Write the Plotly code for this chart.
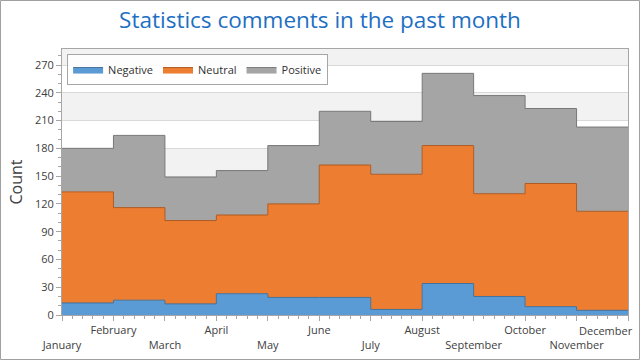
import plotly.graph_objects as go

months = ["January", "February", "March", "April", "May", "June", "July",
          "August", "September", "October", "November", "December"]
negative = [13, 16, 12, 23, 19, 19, 6, 34, 20, 9, 5, 5]
neutral = [120, 100, 90, 85, 101, 143, 146, 149, 111, 133, 107, 107]
positive = [47, 78, 47, 48, 63, 58, 57, 78, 106, 81, 91, 91]

x = list(range(len(months)))
ticktext = [m if i % 2 == 1 else "<br>" + m for i, m in enumerate(months)]
ticktext[-1] = ""

series = [
    ("Negative", negative, "#5b9bd5", "#41719c"),
    ("Neutral", neutral, "#ed7d31", "#ae5a21"),
    ("Positive", positive, "#a5a5a5", "#787878"),
]

fig = go.Figure()
for name, vals, fill, line in series:
    fig.add_trace(go.Scatter(
        x=x, y=vals, name=name, mode="lines", stackgroup="one",
        line=dict(shape="hv", color=line, width=1), fillcolor=fill,
    ))

shapes = []
for k in range(1, 10, 2):
    shapes.append(dict(type="rect", xref="paper", yref="y", x0=0, x1=1,
                       y0=30 * k, y1=30 * (k + 1), fillcolor="#f2f2f2",
                       line_width=0, layer="below"))
shapes.append(dict(type="rect", xref="paper", yref="paper",
                   x0=-61.5 / 566, x1=577.5 / 566, y0=-44.5 / 266, y1=314.5 / 266,
                   line=dict(color="#a0a0a0", width=1), fillcolor="rgba(0,0,0,0)"))

fig.update_layout(
    width=640, height=360,
    margin=dict(l=62, r=12, t=49, b=45),
    paper_bgcolor="white", plot_bgcolor="white",
    font=dict(family="Open Sans, Noto Sans, sans-serif", color="#404040", size=11),
    title=dict(text="Statistics comments in the past month", x=0.5, xanchor="center",
               y=0.945, yanchor="middle", font=dict(size=22.5, color="#1e6fc3")),
    shapes=shapes,
    annotations=[dict(text=months[-1], x=x[-1], xref="x", y=-15 / 266, yref="paper",
                      xanchor="right", yanchor="middle", xshift=7, showarrow=False,
                      font=dict(size=11, color="#404040"))],
    legend=dict(orientation="h", x=0.009, y=0.981, xanchor="left", yanchor="top",
                bgcolor="rgba(255,255,255,0.85)", bordercolor="#a6a6a6", borderwidth=1,
                font=dict(size=11, color="#303030"), traceorder="normal",
                itemwidth=30, tracegroupgap=0),
    showlegend=True,
)
fig.update_xaxes(
    range=[0, 11], tickvals=x, ticktext=ticktext, showgrid=False, zeroline=False,
    showline=True, linecolor="#a6a6a6", mirror=True, ticks="outside", ticklen=5,
    tickcolor="#a6a6a6", tickangle=0, tickfont=dict(size=11, color="#404040"),
    automargin=False,
    minor=dict(ticks="outside", dtick=0.2, ticklen=3, tickcolor="#a6a6a6", showgrid=False),
)
fig.update_yaxes(
    range=[0, 287.3], dtick=30, tick0=0, showgrid=True, gridcolor="#d9d9d9", zeroline=False,
    showline=True, linecolor="#a6a6a6", mirror=True, ticks="outside", ticklen=5,
    tickcolor="#a6a6a6", tickfont=dict(size=11, color="#404040"), automargin=False,
    title=dict(text="Count", font=dict(size=16, color="#404040"), standoff=8),
    minor=dict(ticks="outside", dtick=10, ticklen=3, tickcolor="#a6a6a6", showgrid=False),
)

fig.write_html("out.html", config={"displayModeBar": False},
               post_script="document.body.style.margin='0';document.body.style.overflow='hidden';")
